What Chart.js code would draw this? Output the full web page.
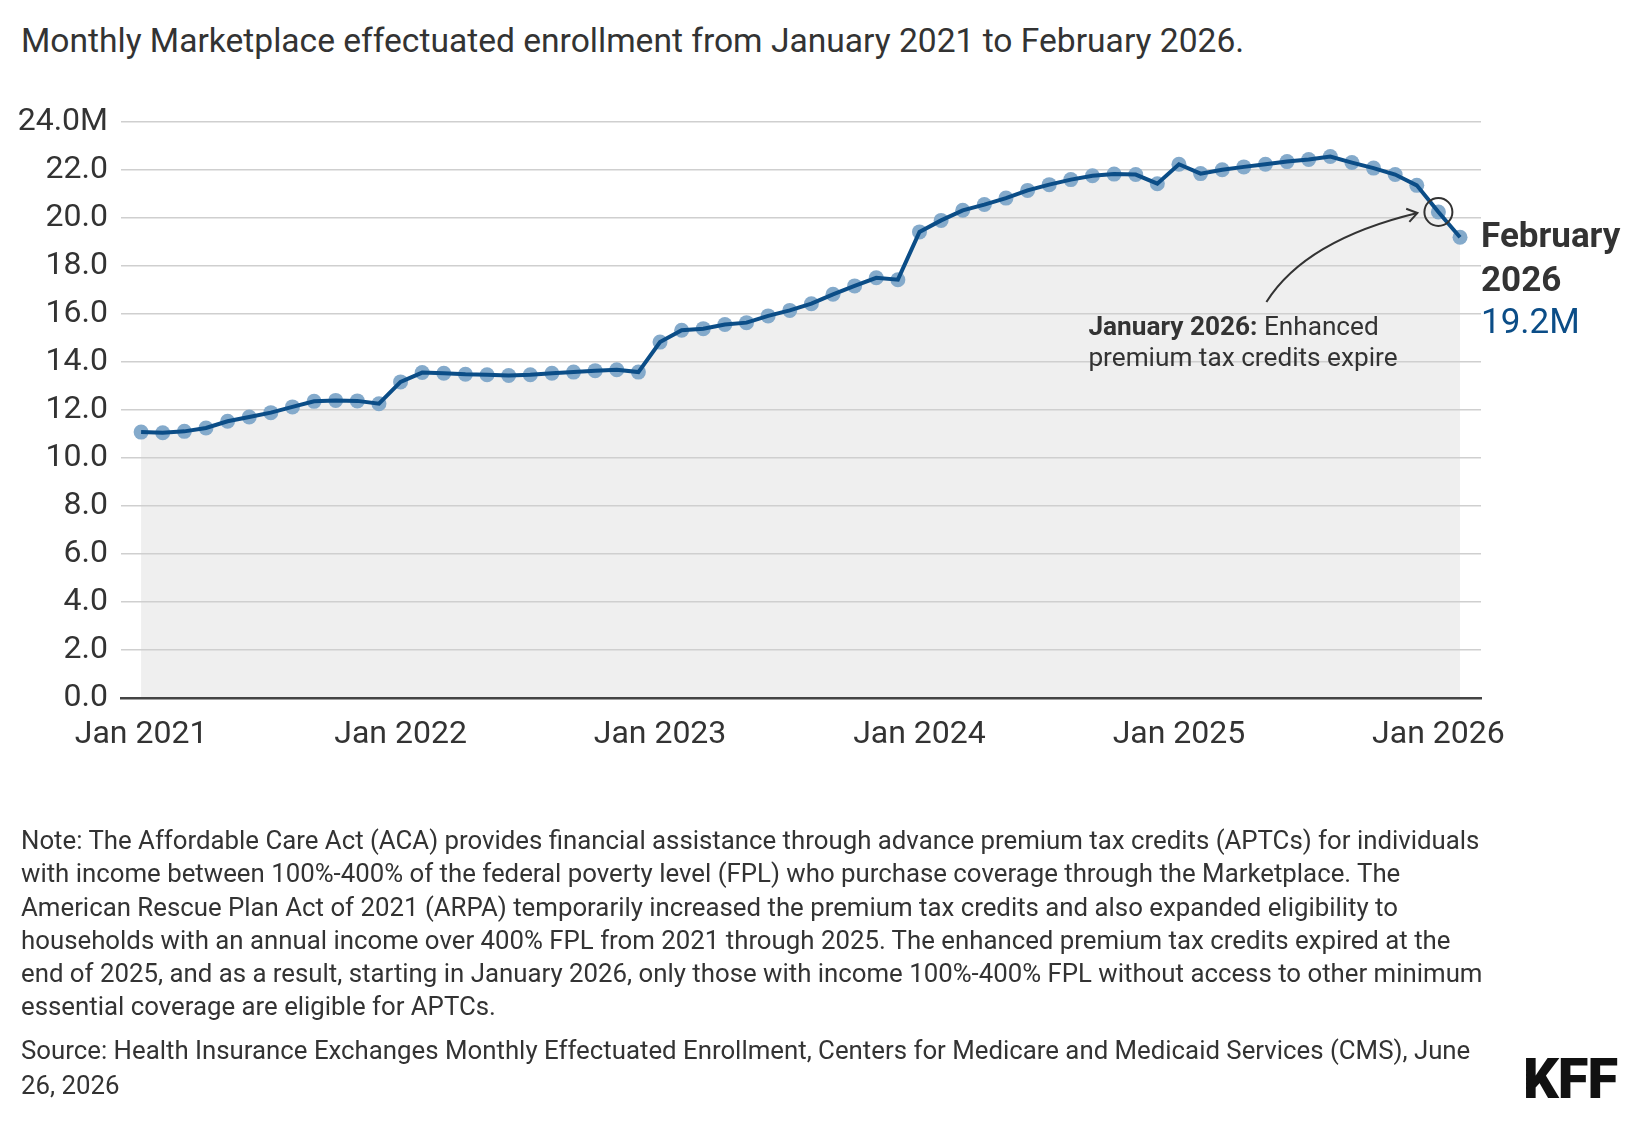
<!DOCTYPE html>
<html>
<head>
<meta charset="utf-8">
<script src="https://cdn.jsdelivr.net/npm/chart.js@4.4.1/dist/chart.umd.min.js"></script>
<style>
  html, body { margin: 0; padding: 0; background: #fff; }
  #wrap { position: relative; width: 1640px; height: 1122px; overflow: hidden; font-family: Roboto, "Noto Sans", sans-serif; color: #333; }
  #chart { position: absolute; left: 0; top: 0; }
  .title { position: absolute; left: 21px; top: 21px; font-size: 33.6px; line-height: 40px; white-space: nowrap; }
  .notes { position: absolute; left: 21px; top: 824px; font-size: 25.8px; line-height: 33.3px; white-space: nowrap; }
  .source { position: absolute; left: 21px; top: 1033px; font-size: 25.8px; line-height: 34.5px; white-space: nowrap; }
  .logo { position: absolute; left: 1523px; top: 1051px; font-size: 56px; line-height: 56px; font-weight: 900; color: #111; letter-spacing: -1px; }
</style>
</head>
<body>
<div id="wrap">
  <div class="title">Monthly Marketplace effectuated enrollment from January 2021 to February 2026.</div>
  <canvas id="chart" width="1640" height="1122"></canvas>
  <div class="notes">Note: The Affordable Care Act (ACA) provides financial assistance through advance premium tax credits (APTCs) for individuals<br>with income between 100%-400% of the federal poverty level (FPL) who purchase coverage through the Marketplace. The<br>American Rescue Plan Act of 2021 (ARPA) temporarily increased the premium tax credits and also expanded eligibility to<br>households with an annual income over 400% FPL from 2021 through 2025. The enhanced premium tax credits expired at the<br>end of 2025, and as a result, starting in January 2026, only those with income 100%-400% FPL without access to other minimum<br>essential coverage are eligible for APTCs.</div>
  <div class="source">Source: Health Insurance Exchanges Monthly Effectuated Enrollment, Centers for Medicare and Medicaid Services (CMS), June<br>26, 2026</div>
  <div class="logo">KFF</div>
</div>
<script>
// months shown on the x axis
const years = [2021, 2022, 2023, 2024, 2025, 2026];
const monthNames = ['Jan', 'Feb', 'Mar', 'Apr', 'May', 'Jun', 'Jul', 'Aug', 'Sep', 'Oct', 'Nov', 'Dec'];

// effectuated enrollment, millions (Jan 2021 .. Feb 2026)
const enrollment = [
    11.08, 11.05, 11.11, 11.25, 11.53, 11.71, 11.89, 12.13, 12.36, 12.40, 12.38, 12.26,
    13.17, 13.56, 13.53, 13.49, 13.47, 13.44, 13.47, 13.53, 13.58, 13.64, 13.68, 13.58,
    14.83, 15.32, 15.39, 15.56, 15.64, 15.92, 16.15, 16.43, 16.82, 17.17, 17.51, 17.43,
    19.42, 19.90, 20.32, 20.56, 20.83, 21.15, 21.39, 21.60, 21.76, 21.83, 21.81, 21.43,
    22.24, 21.85, 22.01, 22.13, 22.24, 22.35, 22.44, 22.56, 22.31, 22.08, 21.81, 21.36,
    20.25, 19.20
];

// y axis tick values (millions)
const yTicks = [0, 2, 4, 6, 8, 10, 12, 14, 16, 18, 20, 22, 24];

// annotation texts
const noteBold = 'January 2026:';
const noteLines = [' Enhanced', 'premium tax credits expire'];
const lastLabel = ['February', '2026'];

const categories = [];
years.forEach(y => monthNames.forEach(m => categories.push(m + ' ' + y)));
categories.length = enrollment.length;

const points = enrollment.map((v, i) => ({ x: i, y: v }));
const xTickIdx = categories.map((c, i) => c.startsWith('Jan') ? i : -1).filter(i => i >= 0);

const BLUE = '#0b4d87';
const DOT = '#84aacb';
const TEXT = '#333333';

const annotations = {
    id: 'annotations',
    afterDatasetsDraw(chart) {
        const ctx = chart.ctx;
        const xs = chart.scales.x;
        const ys = chart.scales.y;

        // end label
        const li = enrollment.length - 1;
        const lx = xs.getPixelForValue(li) + 21;
        const ly = ys.getPixelForValue(enrollment[li]);
        ctx.save();
        ctx.textAlign = 'left';
        ctx.textBaseline = 'middle';
        ctx.fillStyle = TEXT;
        ctx.font = 'bold 35px Roboto';
        ctx.fillText(lastLabel[0], lx, ly + 1);
        ctx.fillText(lastLabel[1], lx, ly + 45);
        ctx.font = '35px Roboto';
        ctx.fillStyle = BLUE;
        ctx.fillText(enrollment[li].toFixed(1) + 'M', lx, ly + 87);

        // circle around January 2026
        const ji = categories.indexOf('Jan 2026');
        const cx = xs.getPixelForValue(ji);
        const cy = ys.getPixelForValue(enrollment[ji]);
        ctx.strokeStyle = TEXT;
        ctx.lineWidth = 2;
        ctx.beginPath();
        ctx.arc(cx, cy, 14, 0, Math.PI * 2);
        ctx.stroke();

        // curved arrow
        const sx = cx - 172, sy = cy + 90;
        const ex = cx - 21, ey = cy + 1;
        const qx = cx - 133, qy = cy + 28;
        ctx.beginPath();
        ctx.moveTo(sx, sy);
        ctx.quadraticCurveTo(qx, qy, ex, ey);
        ctx.stroke();
        const ang = Math.atan2(ey - qy, ex - qx);
        ctx.beginPath();
        ctx.moveTo(ex - 12 * Math.cos(ang - 0.6), ey - 12 * Math.sin(ang - 0.6));
        ctx.lineTo(ex, ey);
        ctx.lineTo(ex - 12 * Math.cos(ang + 0.6), ey - 12 * Math.sin(ang + 0.6));
        ctx.stroke();

        // note text
        const tx = cx - 350;
        ctx.fillStyle = TEXT;
        ctx.font = 'bold 26.2px Roboto';
        ctx.fillText(noteBold, tx, cy + 116);
        const bw = ctx.measureText(noteBold).width;
        ctx.font = '26.2px Roboto';
        ctx.fillText(noteLines[0], tx + bw, cy + 116);
        ctx.fillText(noteLines[1], tx, cy + 147);
        ctx.restore();
    }
};

const tickFont = { family: 'Roboto', size: 32 };

new Chart(document.getElementById('chart'), {
    type: 'line',
    data: {
        datasets: [
            { data: points, fill: 'origin', backgroundColor: '#efefef', borderWidth: 0, pointRadius: 0, order: 3 },
            { data: points, showLine: false, pointRadius: 7.5, pointBackgroundColor: DOT, pointBorderWidth: 0, order: 2 },
            { data: points, fill: false, borderColor: BLUE, borderWidth: 4, pointRadius: 0, tension: 0, order: 1 }
        ]
    },
    options: {
        responsive: false,
        animation: false,
        layout: { padding: { top: 122, right: 159, bottom: 364, left: 0 } },
        plugins: {
            legend: { display: false },
            tooltip: { enabled: false },
            filler: { drawTime: 'beforeDraw' }
        },
        scales: {
            x: {
                type: 'linear',
                min: -0.93,
                max: 61.97,
                afterBuildTicks: s => { s.ticks = xTickIdx.map(v => ({ value: v })); },
                afterFit: s => { s.height = 60; },
                ticks: {
                    autoSkip: false,
                    maxRotation: 0,
                    padding: 10,
                    color: TEXT,
                    font: tickFont,
                    callback: v => categories[v]
                },
                grid: { display: false },
                border: { color: '#444', width: 2.5 }
            },
            y: {
                min: 0,
                max: 24,
                afterBuildTicks: s => { s.ticks = yTicks.map(v => ({ value: v })); },
                afterFit: s => { s.width = 121; },
                ticks: {
                    padding: 13,
                    color: TEXT,
                    font: tickFont,
                    callback: v => v === 24 ? '24.0M' : v.toFixed(1)
                },
                grid: { color: '#cfcfcf', lineWidth: 1.5, drawTicks: false },
                border: { display: false }
            }
        }
    },
    plugins: [annotations]
});
</script>
</body>
</html>
